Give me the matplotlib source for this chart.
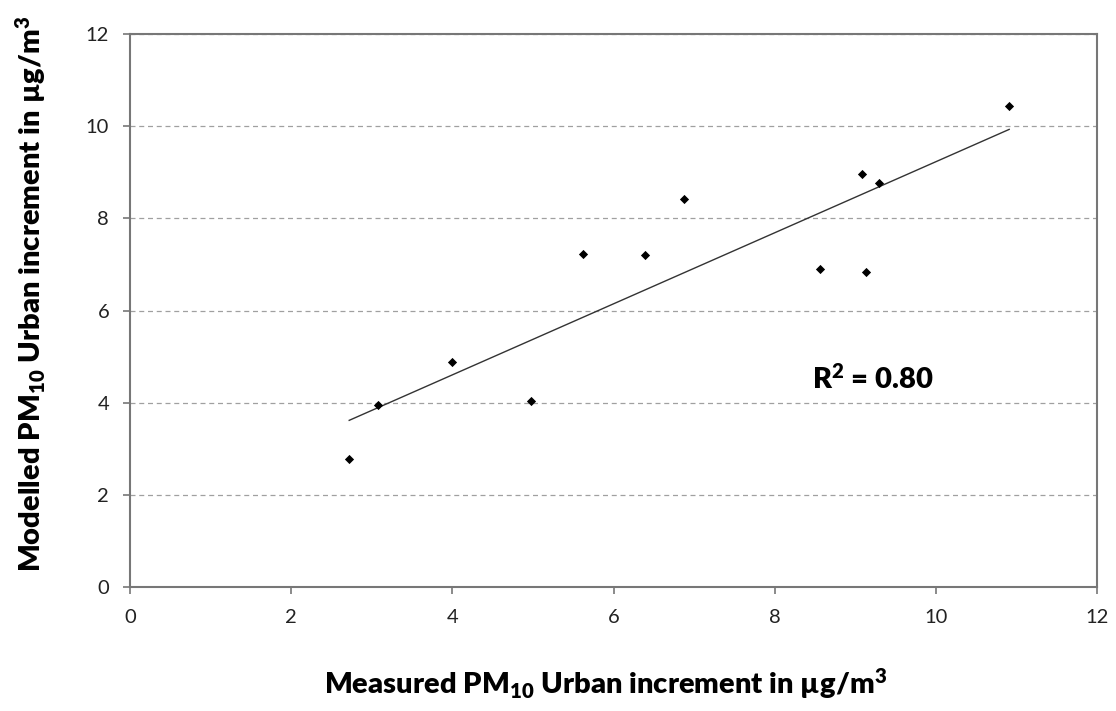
import matplotlib
matplotlib.use("Agg")
import matplotlib.pyplot as plt
import numpy as np

measured = [2.72, 3.08, 3.99, 4.98, 5.62, 6.39, 6.87, 8.56, 9.08, 9.13, 9.30, 10.91]
modelled = [2.78, 3.96, 4.89, 4.04, 7.22, 7.20, 8.43, 6.91, 8.96, 6.83, 8.76, 10.43]
x_ticks = [0, 2, 4, 6, 8, 10, 12]
y_ticks = [0, 2, 4, 6, 8, 10, 12]
r2_text = "R$^2$ = 0.80"

plt.rcParams['font.family'] = ['Lato', 'DejaVu Sans']
plt.rcParams['mathtext.default'] = 'regular'

fig = plt.figure(figsize=(11.16, 7.11), dpi=100)
ax = fig.add_axes([0.1165, 0.1744, 0.8665, 0.7776])

ax.scatter(measured, modelled, marker='D', s=22, color='black', zorder=3, linewidths=0)

xs = np.array(measured)
ys = np.array(modelled)
slope, intercept = np.polyfit(xs, ys, 1)
xl = np.array([xs.min(), xs.max()])
ax.plot(xl, slope * xl + intercept, color='#333333', lw=1.0, zorder=2)

ax.set_xlim(0, 12)
ax.set_ylim(0, 12)
ax.set_xticks(x_ticks)
ax.set_yticks(y_ticks)
ax.tick_params(direction='out', length=5, width=1.2, color='#777777', labelsize=14.5, labelcolor='#222222')
ax.tick_params(axis='x', pad=11)
ax.tick_params(axis='y', pad=10)
for s in ax.spines.values():
    s.set_color('#777777')
    s.set_linewidth(1.5)

ax.yaxis.grid(True, linestyle=(0, (4, 3)), color='#a0a0a0', lw=0.9)
ax.set_axisbelow(True)

ax.set_xlabel("Measured PM$_{10}$ Urban increment in µg/m$^3$", fontsize=21, fontweight='heavy', labelpad=29)
ax.set_ylabel("Modelled PM$_{10}$ Urban increment in µg/m$^3$", fontsize=21, fontweight='heavy', labelpad=27)
ax.xaxis.label.set_x(0.492)
ax.yaxis.label.set_y(0.53)

ax.text(8.46, 4.52, r2_text, fontsize=21, fontweight='heavy', va='center', ha='left')

fig.savefig("out.png", dpi=100, facecolor='white')
